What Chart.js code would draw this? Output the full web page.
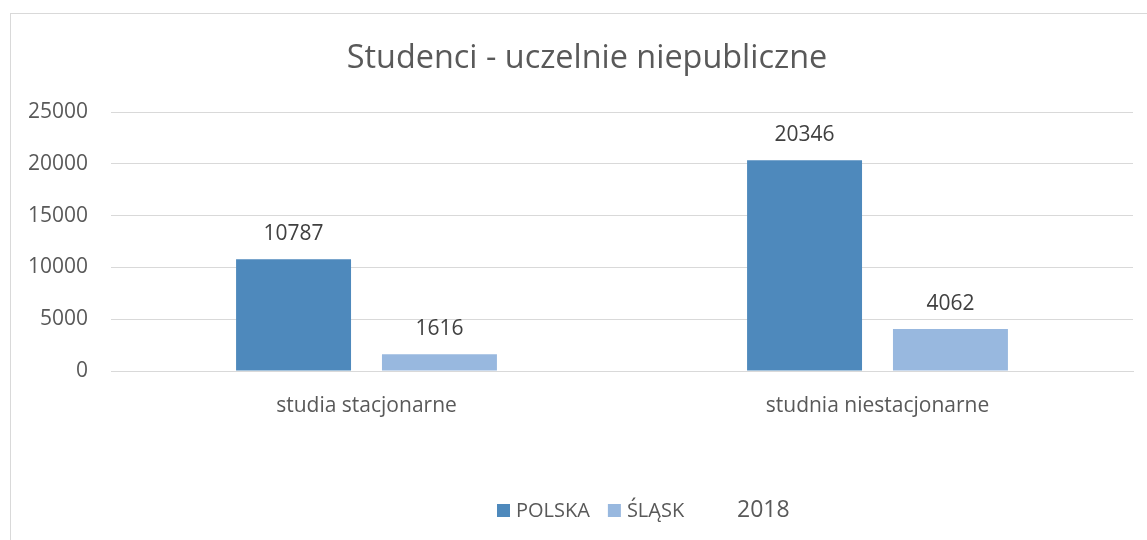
<!DOCTYPE html>
<html>
<head>
<meta charset="utf-8">
<script src="https://cdn.jsdelivr.net/npm/chart.js@4"></script>
<style>
  html, body { margin: 0; padding: 0; background: #fff; }
  #wrap { position: relative; width: 1147px; height: 540px; overflow: hidden; }
  #frame { position: absolute; left: 10px; top: 13px; width: 1200px; height: 600px; border: 1px solid #d9d9d9; box-sizing: border-box; }
  canvas { position: absolute; left: 0; top: 0; }
</style>
</head>
<body>
<div id="wrap">
  <div id="frame"></div>
  <canvas id="chart" width="1147" height="540"></canvas>
</div>
<script>
const titleText = 'Studenci - uczelnie niepubliczne';
const categories = ['studia stacjonarne', 'studnia niestacjonarne'];
const polska = [10787, 20346];
const slask = [1616, 4062];
const seriesNames = ['POLSKA', 'ŚLĄSK'];
const yearLabel = '2018';
const yTicks = [0, 5000, 10000, 15000, 20000, 25000];

const FONT = '"Open Sans", sans-serif';
const GRAY = '#595959';

// title, value labels and the legend drawn on the canvas
const extras = {
  id: 'extras',
  afterDatasetsDraw(chart) {
    const ctx = chart.ctx;
    ctx.save();
    ctx.fillStyle = GRAY;
    ctx.textAlign = 'center';
    ctx.textBaseline = 'middle';
    ctx.font = '32.4px ' + FONT;
    ctx.fillText(titleText, 587, 59);

    ctx.font = '21px ' + FONT;
    ctx.fillStyle = '#404040';
    chart.data.datasets.forEach((ds, i) => {
      chart.getDatasetMeta(i).data.forEach((bar, j) => {
        ctx.fillText(String(ds.data[j]), bar.x, bar.y - 25);
      });
    });

    // legend
    ctx.font = '20px ' + FONT;
    ctx.fillStyle = GRAY;
    ctx.textAlign = 'left';
    let x = 497;
    const y = 510;
    chart.data.datasets.forEach((ds) => {
      ctx.fillStyle = ds.backgroundColor;
      ctx.fillRect(x, y - 6, 13, 13);
      ctx.fillStyle = GRAY;
      ctx.fillText(ds.label, x + 19, y + 1);
      x += 19 + ctx.measureText(ds.label).width + 18;
    });
    ctx.font = '23px ' + FONT;
    ctx.fillText(yearLabel, 737, y);
    ctx.restore();
  }
};

new Chart(document.getElementById('chart'), {
  type: 'bar',
  data: {
    labels: categories,
    datasets: [
      { label: seriesNames[0], data: polska, backgroundColor: '#4e89bc' },
      { label: seriesNames[1], data: slask, backgroundColor: '#98b8df' }
    ]
  },
  options: {
    responsive: false,
    animation: false,
    layout: { padding: { top: 112, right: 14, left: 0, bottom: 0 } },
    datasets: { bar: { categoryPercentage: 0.571, barPercentage: 0.788 } },
    scales: {
      x: {
        grid: { display: false },
        border: { color: '#d9d9d9', width: 1 },
        ticks: { color: GRAY, font: { family: FONT, size: 21 }, padding: 14 },
        afterFit(scale) { scale.height = 169; }
      },
      y: {
        min: 0,
        max: 25000,
        afterBuildTicks(scale) { scale.ticks = yTicks.map(v => ({ value: v })); },
        grid: { color: '#d9d9d9', drawTicks: false },
        border: { display: false },
        ticks: {
          color: GRAY,
          font: { family: FONT, size: 21 },
          padding: 23,
          callback: (v) => String(v)
        },
        afterFit(scale) { scale.width = 111; }
      }
    },
    plugins: {
      legend: { display: false },
      title: { display: false },
      tooltip: { enabled: false }
    }
  },
  plugins: [extras]
});
</script>
</body>
</html>
